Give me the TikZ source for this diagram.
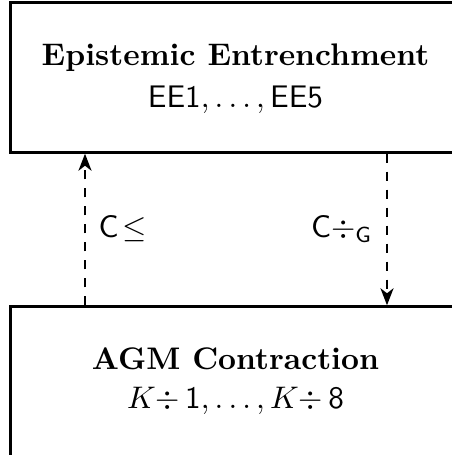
\documentclass[tikz,border=0pt]{standalone}
\usetikzlibrary{arrows.meta}
\begin{document}
\begin{tikzpicture}[x=1pt,y=1pt,
  theorybox/.style={draw, line width=2.4pt, minimum width=450pt,
    minimum height=150pt, inner sep=0pt},
  boxtext/.style={scale=3.12, align=center, inner sep=0pt},
  linkarrow/.style={line width=2.4pt, dash pattern=on 9pt off 9pt,
    -{Stealth[length=17pt,width=13pt,inset=5pt]}},
  linklabel/.style={scale=3.12, inner sep=0pt}]
  \useasboundingbox (0,0) rectangle (452,455);
  % the two frameworks
  \node[theorybox] (ee) at (235.5,377.5) {};
  \node[boxtext] (eetext) at (235.5,376.5)
    {\textbf{Epistemic Entrenchment}\\[1.5pt] $\mathsf{EE1},\ldots,\mathsf{EE5}$};
  \node[theorybox] (agm) at (235.5,73.5) {};
  \node[boxtext] (agmtext) at (235.5,74)
    {\textbf{AGM Contraction}\\[0.5pt] $K{\div}\,\mathsf{1},\ldots,K{\div}\,\mathsf{8}$};
  % horizontal positions of the two translations
  \coordinate (up) at (85,0);
  \coordinate (down) at (387,0);
  \draw[linkarrow] (agm.north -| up) -- (ee.south -| up);
  \draw[linkarrow] (ee.south -| down) -- (agm.north -| down);
  \node[linklabel, anchor=base west] (cle) at (98,217) {$\mathsf{C}\mskip-3mu\leq$};
  \node[linklabel, anchor=base east] (cdiv) at (373,217) {$\mathsf{C}{\div}_{\mathsf{G}}$};
\end{tikzpicture}
\end{document}
